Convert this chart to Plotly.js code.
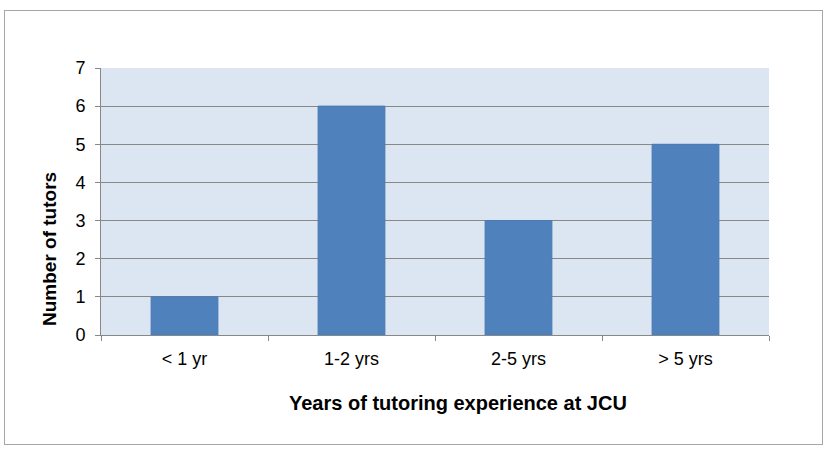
<!DOCTYPE html>
<html><head><meta charset="utf-8">
<script src="https://cdn.plot.ly/plotly-3.0.1.min.js"></script>
<style>
html,body{margin:0;padding:0;background:#fff;}
#wrap{position:absolute;left:4px;top:10px;width:817px;height:433px;border:1px solid #a6a6a6;}
#chart{width:817px;height:433px;}
</style></head><body>
<div id="wrap"><div id="chart"></div></div>
<script>
const categories = ["< 1 yr", "1-2 yrs", "2-5 yrs", "> 5 yrs"];
const tutors = [1, 6, 3, 5];
const xTitle = "Years of tutoring experience at JCU";
const yTitle = "Number of tutors";

const data = [{
  type: "bar",
  x: categories,
  y: tutors,
  marker: {color: "#4f81bd", line: {color: "#4a7ab3", width: 1}},
  hoverinfo: "skip"
}];
const layout = {
  width: 817, height: 433,
  margin: {l: 96, r: 53, t: 57, b: 109},
  paper_bgcolor: "#ffffff",
  plot_bgcolor: "#dce6f2",
  bargap: 0.6,
  showlegend: false,
  font: {family: "Liberation Sans, Arial, sans-serif", color: "#000"},
  xaxis: {
    type: "category",
    tickson: "boundaries",
    ticks: "outside", ticklen: 5, tickcolor: "#888", tickwidth: 1,
    showline: true, linecolor: "#888", linewidth: 1,
    showgrid: false, zeroline: false,
    tickfont: {size: 18},
    ticklabelstandoff: 7
  },
  yaxis: {
    range: [0, 7], dtick: 1,
    ticks: "outside", ticklen: 5, tickcolor: "#888", tickwidth: 1,
    showline: true, linecolor: "#888", linewidth: 1,
    showgrid: true, gridcolor: "#888", gridwidth: 1,
    zeroline: false,
    tickfont: {size: 18},
    ticklabelstandoff: 6
  },
  annotations: [
    {text: xTitle, xref: "paper", yref: "paper", x: 0.5337, y: -0.2547,
     xanchor: "center", yanchor: "middle", showarrow: false,
     font: {size: 20, weight: "bold", color: "#000"}},
    {text: yTitle, xref: "paper", yref: "paper", x: -0.0771, y: 0.324,
     xanchor: "center", yanchor: "middle", showarrow: false, textangle: -90,
     font: {size: 19, weight: "bold", color: "#000"}}
  ]
};
Plotly.newPlot("chart", data, layout, {staticPlot: true, displayModeBar: false});
</script>
</body></html>
